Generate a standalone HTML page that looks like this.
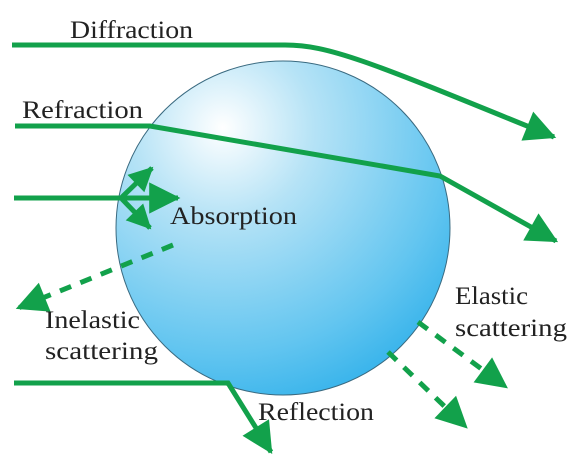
<!DOCTYPE html>
<html><head><meta charset="utf-8"><style>
html,body{margin:0;padding:0;background:#fff;}
svg{display:block;}
text{font-family:"Liberation Serif",serif;font-size:25px;fill:#222;}
</style></head><body>
<svg width="582" height="467" viewBox="0 0 582 467">
<defs>
<radialGradient id="g" cx="0.32" cy="0.2" r="0.9">
<stop offset="0" stop-color="#ffffff"/>
<stop offset="0.3" stop-color="#b6e3f6"/>
<stop offset="0.75" stop-color="#62c5f0"/>
<stop offset="1" stop-color="#2fb0ea"/>
</radialGradient>
<marker id="ah" markerUnits="userSpaceOnUse" markerWidth="36" markerHeight="36" viewBox="0 0 30 30" refX="26" refY="15" orient="auto">
<path d="M2,2 L28,15 L2,28 Z" fill="#12a14b"/>
</marker>
<marker id="ahs" markerUnits="userSpaceOnUse" markerWidth="28" markerHeight="28" viewBox="0 0 30 30" refX="26" refY="15" orient="auto">
<path d="M2,2 L28,15 L2,28 Z" fill="#12a14b"/>
</marker>
</defs>
<circle cx="283" cy="228" r="167" fill="url(#g)" stroke="#3a6a80" stroke-width="1"/>
<g fill="none" stroke="#12a14b" stroke-width="5">
<path d="M12,45 L285,45 C330,45 370,62 554,137" marker-end="url(#ah)"/>
<path d="M15,126 L150,126 L440,176 L556,241" marker-end="url(#ah)"/>
<path d="M14,198 L178,198" marker-end="url(#ah)"/>
<path d="M122,197 L152,168" marker-end="url(#ahs)"/>
<path d="M122,199 L150,228" marker-end="url(#ahs)"/>
<path d="M173,245 L18,308" stroke-dasharray="12,10" marker-end="url(#ah)"/>
<path d="M14,383 L228,383 L271,452" marker-end="url(#ah)"/>
<path d="M418,322 L506,387" stroke-dasharray="12,10" marker-end="url(#ah)"/>
<path d="M388,352 L466,427" stroke-dasharray="12,10" marker-end="url(#ah)"/>
</g>
<text x="70" y="38" textLength="123" lengthAdjust="spacingAndGlyphs">Diffraction</text>
<text x="22" y="118" textLength="121" lengthAdjust="spacingAndGlyphs">Refraction</text>
<text x="170" y="224" textLength="127" lengthAdjust="spacingAndGlyphs">Absorption</text>
<text x="45" y="328" textLength="95" lengthAdjust="spacingAndGlyphs">Inelastic</text>
<text x="45" y="359" textLength="113" lengthAdjust="spacingAndGlyphs">scattering</text>
<text x="455" y="304" textLength="73" lengthAdjust="spacingAndGlyphs">Elastic</text>
<text x="455" y="336" textLength="112" lengthAdjust="spacingAndGlyphs">scattering</text>
<text x="258" y="420" textLength="116" lengthAdjust="spacingAndGlyphs">Reflection</text>
</svg>
</body></html>
